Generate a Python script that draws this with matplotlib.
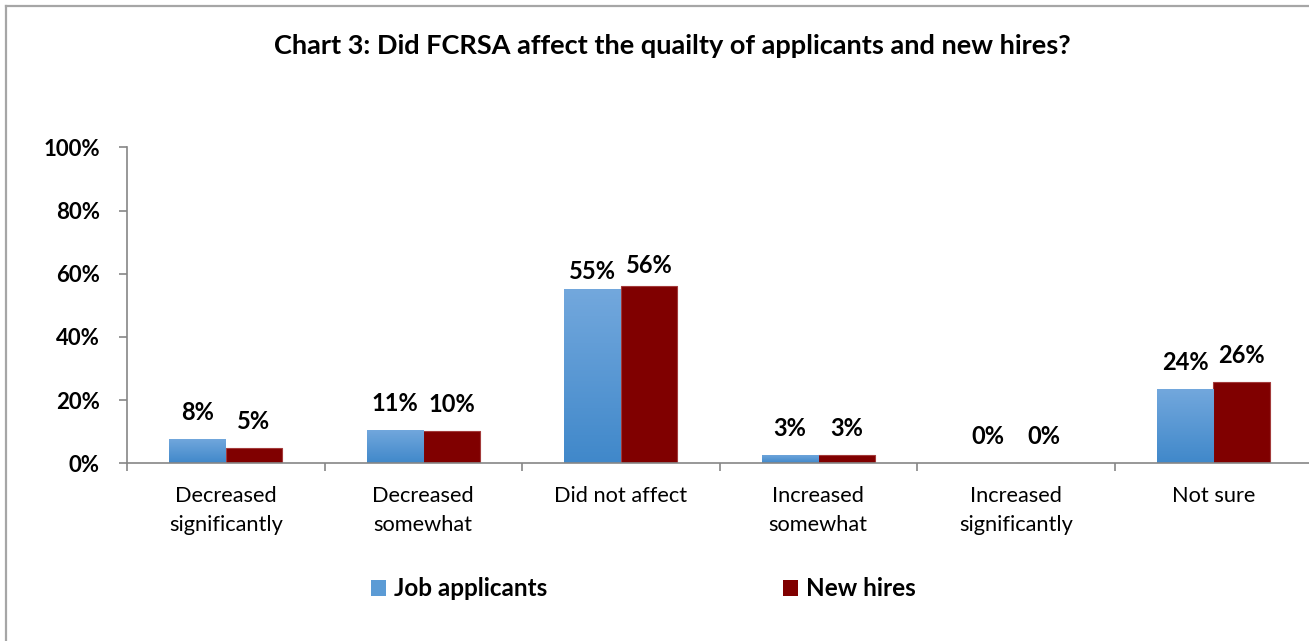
import numpy as np
import matplotlib
matplotlib.use("Agg")
import matplotlib.pyplot as plt
from matplotlib.patches import Patch
from matplotlib.lines import Line2D
from matplotlib.colors import LinearSegmentedColormap

plt.rcParams['font.family'] = ['Lato', 'DejaVu Sans']

categories = ["Decreased\nsignificantly", "Decreased\nsomewhat", "Did not affect",
              "Increased\nsomewhat", "Increased\nsignificantly", "Not sure"]
job_applicants = [0.077, 0.105, 0.552, 0.026, 0.0, 0.235]
new_hires = [0.049, 0.102, 0.562, 0.025, 0.0, 0.257]
job_labels = ["8%", "11%", "55%", "3%", "0%", "24%"]
hire_labels = ["5%", "10%", "56%", "3%", "0%", "26%"]
series_names = ["Job applicants", "New hires"]
yticks = [0, 0.2, 0.4, 0.6, 0.8, 1.0]
ytick_labels = ["0%", "20%", "40%", "60%", "80%", "100%"]
title = "Chart 3: Did FCRSA affect the quailty of applicants and new hires?"

# label gap above bar top (points) – style only
job_label_gap = [13.7, 13.7, 7.0, 13.7, 13.7, 13.7]
hire_label_gap = [13.7, 13.7, 8.8, 13.7, 13.7, 13.7]

W, H = 1309, 641
fig = plt.figure(figsize=(W / 100, H / 100), dpi=100)

# border (top and left visible)
fig.add_artist(Line2D([5.5 / W, 5.5 / W], [0, 1 - 5.5 / H], transform=fig.transFigure,
                      color="#A6A6A6", lw=1.6))
fig.add_artist(Line2D([5.5 / W, 1], [1 - 5.5 / H, 1 - 5.5 / H], transform=fig.transFigure,
                      color="#A6A6A6", lw=1.6))

ax_left, ax_right = 127, 1312
ax_top, ax_bot = 147.3, 463.3
ax = fig.add_axes([ax_left / W, (H - ax_bot) / H, (ax_right - ax_left) / W, (ax_bot - ax_top) / H])

n = len(categories)
x = np.arange(n)
bw = 1 / 3.5
blue_c = "#5B9BD5"
red_c = "#800000"

bars1 = ax.bar(x - bw / 2, job_applicants, bw, color=blue_c, edgecolor="none", zorder=2)
bars2 = ax.bar(x + bw / 2, new_hires, bw, color=red_c, edgecolor="#A33A3A", linewidth=0.8, zorder=2)

# gradient for blue bars
grad = np.linspace(0, 1, 256).reshape(-1, 1)
cmap = LinearSegmentedColormap.from_list("bl", ["#4088CA", "#73A8DD"])
for b in bars1:
    h = b.get_height()
    if h <= 0:
        continue
    x0 = b.get_x()
    im = ax.imshow(grad, extent=[x0, x0 + b.get_width(), 0, h], origin="lower",
                   cmap=cmap, aspect="auto", zorder=2.5)
    im.set_clip_path(b)

ax.set_xlim(-0.5, n - 0.5)
ax.set_ylim(0, 1.0)

for bars, labs, gaps in ((bars1, job_labels, job_label_gap), (bars2, hire_labels, hire_label_gap)):
    for b, lab, g in zip(bars, labs, gaps):
        ax.annotate(lab, (b.get_x() + b.get_width() / 2, b.get_height()),
                    xytext=(0, g), textcoords="offset points", ha="center", va="baseline",
                    fontsize=17, fontweight="bold", color="black")

ax.set_yticks(yticks)
ax.set_yticklabels(ytick_labels, fontsize=16, fontweight="bold")
ax.set_xticks(x)
ax.set_xticklabels(categories, fontsize=15.7, linespacing=1.55)
ax.set_xticks(np.arange(n + 1) - 0.5, minor=True)
ax.tick_params(axis="x", which="major", length=0, pad=16.5)
ax.tick_params(axis="x", which="minor", length=6, color="#868686", width=1.2)
ax.tick_params(axis="y", length=5.5, color="#868686", width=1.2, pad=14)

for s in ("top", "right"):
    ax.spines[s].set_visible(False)
for s in ("left", "bottom"):
    ax.spines[s].set_color("#868686")
    ax.spines[s].set_linewidth(1.2)

fig.text(672 / W, 1 - 46 / H, title, ha="center", va="center", fontsize=19.5, fontweight="bold")

handles = [Patch(facecolor=blue_c, edgecolor="none"), Patch(facecolor=red_c, edgecolor="none")]
leg = fig.legend(handles, series_names, loc="center", bbox_to_anchor=(643 / W, 1 - 589 / H),
                 ncol=2, frameon=False, prop={"size": 17.5, "weight": "bold"},
                 handlelength=0.65, handleheight=0.65, handletextpad=0.3, columnspacing=9.7)

fig.savefig("out.png", dpi=100)
